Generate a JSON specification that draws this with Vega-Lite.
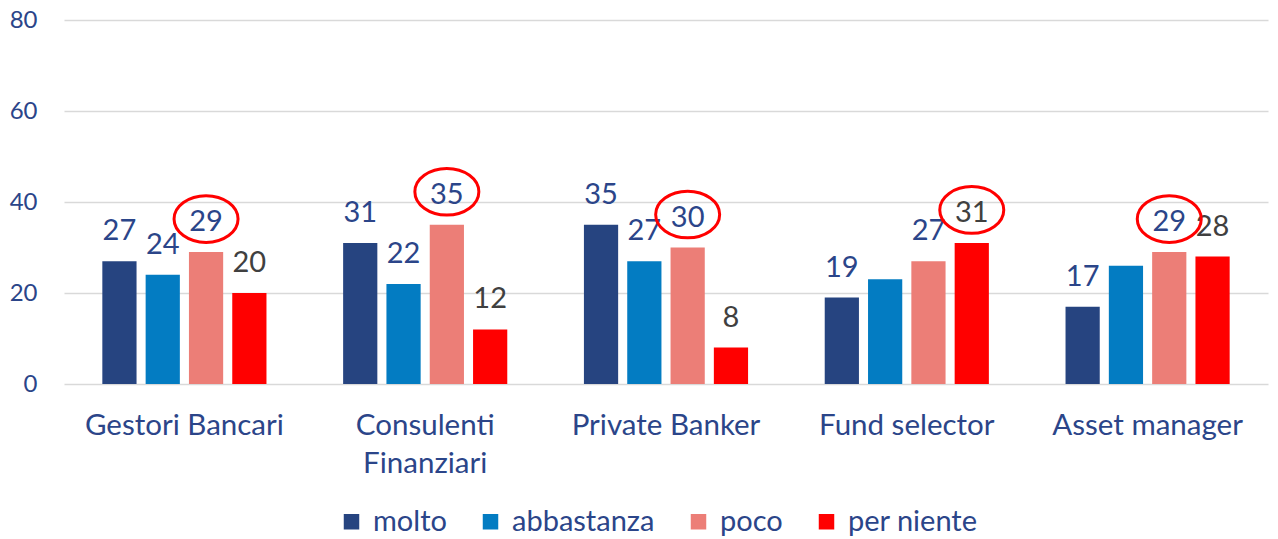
{
  "$schema": "https://vega.github.io/schema/vega-lite/v6.json",
  "width": 1204,
  "height": 364,
  "autosize": {"type": "none"},
  "padding": {"left": 64, "top": 20, "right": 10, "bottom": 155},
  "background": "white",
  "data": {
    "values": [
      {"cat": "Gestori Bancari", "serie": "molto", "value": 27, "label": "27", "circled": false},
      {"cat": "Gestori Bancari", "serie": "abbastanza", "value": 24, "label": "24", "circled": false},
      {"cat": "Gestori Bancari", "serie": "poco", "value": 29, "label": "29", "circled": true},
      {"cat": "Gestori Bancari", "serie": "per niente", "value": 20, "label": "20", "circled": false},
      {"cat": "Consulenti Finanziari", "serie": "molto", "value": 31, "label": "31", "circled": false},
      {"cat": "Consulenti Finanziari", "serie": "abbastanza", "value": 22, "label": "22", "circled": false},
      {"cat": "Consulenti Finanziari", "serie": "poco", "value": 35, "label": "35", "circled": true},
      {"cat": "Consulenti Finanziari", "serie": "per niente", "value": 12, "label": "12", "circled": false},
      {"cat": "Private Banker", "serie": "molto", "value": 35, "label": "35", "circled": false},
      {"cat": "Private Banker", "serie": "abbastanza", "value": 27, "label": "27", "circled": false},
      {"cat": "Private Banker", "serie": "poco", "value": 30, "label": "30", "circled": true},
      {"cat": "Private Banker", "serie": "per niente", "value": 8, "label": "8", "circled": false},
      {"cat": "Fund selector", "serie": "molto", "value": 19, "label": "19", "circled": false},
      {"cat": "Fund selector", "serie": "abbastanza", "value": 23, "label": "", "circled": false},
      {"cat": "Fund selector", "serie": "poco", "value": 27, "label": "27", "circled": false},
      {"cat": "Fund selector", "serie": "per niente", "value": 31, "label": "31", "circled": true},
      {"cat": "Asset manager", "serie": "molto", "value": 17, "label": "17", "circled": false},
      {"cat": "Asset manager", "serie": "abbastanza", "value": 26, "label": "", "circled": false},
      {"cat": "Asset manager", "serie": "poco", "value": 29, "label": "29", "circled": true},
      {"cat": "Asset manager", "serie": "per niente", "value": 28, "label": "28", "circled": false}
    ]
  },
  "encoding": {
    "x": {
      "field": "cat",
      "type": "nominal",
      "title": null,
      "scale": {
        "domain": ["Gestori Bancari", "Consulenti Finanziari", "Private Banker", "Fund selector", "Asset manager"],
        "paddingInner": 0,
        "paddingOuter": -0.0555,
        "align": 0
      },
      "axis": {
        "labelAngle": 0,
        "domain": false,
        "ticks": false,
        "labelFont": "Lato",
        "labelFontSize": 29.5,
        "labelColor": "#2B4589",
        "labelPadding": 27,
        "labelLineHeight": 38,
        "labelLimit": 400,
        "labelExpr": "datum.label == 'Consulenti Finanziari' ? ['Consulenti', 'Finanziari'] : datum.label"
      }
    },
    "xOffset": {
      "field": "serie",
      "type": "nominal",
      "scale": {
        "domain": ["molto", "abbastanza", "poco", "per niente"],
        "paddingInner": 0.21,
        "paddingOuter": 0.885
      }
    },
    "y": {
      "field": "value",
      "type": "quantitative",
      "title": null,
      "scale": {"domain": [0, 80], "nice": false},
      "axis": {
        "values": [0, 20, 40, 60, 80],
        "domain": false,
        "ticks": false,
        "labelFont": "Lato",
        "labelFontSize": 24,
        "labelColor": "#2B4589",
        "labelPadding": 27,
        "gridColor": "#D9D9D9",
        "gridWidth": 1.5
      }
    }
  },
  "layer": [
    {
      "mark": {"type": "bar"},
      "encoding": {
        "color": {
          "field": "serie",
          "type": "nominal",
          "title": null,
          "scale": {
            "domain": ["molto", "abbastanza", "poco", "per niente"],
            "range": ["#264480", "#037CC2", "#EC7E77", "#FF0000"]
          },
          "legend": {
            "orient": "none",
            "direction": "horizontal",
            "legendX": 273,
            "legendY": 487,
            "symbolType": "square",
            "symbolSize": 240,
            "symbolStrokeWidth": 0,
            "labelFont": "Lato",
            "labelFontSize": 29,
            "labelColor": "#2B4589",
            "labelOffset": 7,
            "columnPadding": 29,
            "labelLimit": 300
          }
        }
      }
    },
    {
      "mark": {"type": "text", "baseline": "alphabetic", "dy": -21, "font": "Lato", "fontSize": 29},
      "encoding": {
        "text": {"field": "label"},
        "color": {
          "condition": {"test": "datum.serie === 'per niente'", "value": "#404040"},
          "value": "#2B4589"
        }
      }
    },
    {
      "transform": [{"filter": "datum.circled"}],
      "mark": {
        "type": "point",
        "shape": "M -1 0 A 1 0.73 0 1 0 1 0 A 1 0.73 0 1 0 -1 0 Z",
        "size": 4096,
        "filled": false,
        "stroke": "#FF0000",
        "strokeWidth": 3,
        "opacity": 1,
        "yOffset": -33
      },
      "encoding": {}
    }
  ],
  "config": {
    "view": {"stroke": null}
  }
}
